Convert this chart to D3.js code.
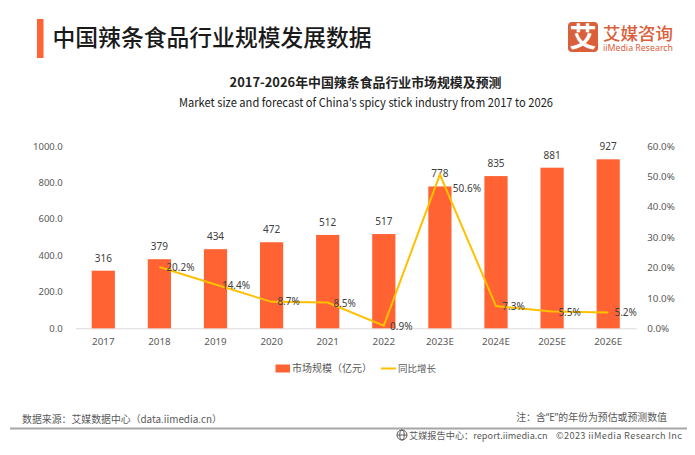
<!DOCTYPE html>
<html>
<head>
<meta charset="utf-8">
<script src="https://cdn.jsdelivr.net/npm/d3@7"></script>
<style>
  html, body { margin: 0; padding: 0; background: #fff; }
  svg { display: block; }
  text { font-family: "Noto Sans CJK SC", "Noto Sans", sans-serif; }
</style>
</head>
<body>
<div id="chart"></div>
<script>
const categories = ["2017", "2018", "2019", "2020", "2021", "2022", "2023E", "2024E", "2025E", "2026E"]
const marketSize = [316, 379, 434, 472, 512, 517, 778, 835, 881, 927]
const growth = [null, 20.2, 14.4, 8.7, 8.5, 0.9, 50.6, 7.3, 5.5, 5.2]
const leftTicks = [0, 200, 400, 600, 800, 1000]
const rightTicks = [0, 10, 20, 30, 40, 50, 60]
// label nudges for the growth line, same order as growth
const growthLabelDx = [0, 21, 20.5, 17, 17, 17.5, 27, 17.5, 17.5, 17.5]
const growthLabelDy = [0, 4, 4, 3.5, 4.5, 4, 17.5, 4, 4, 3.5]

const width = 695, height = 455
const plot = { left: 75.25, right: 636.25, top: 146, bottom: 328.3 }
const orange = "#ff6333", yellow = "#ffc000", grey = "#595959"
const latin = '"Noto Sans", sans-serif'

const svg = d3.select("#chart").append("svg")
    .attr("width", width)
    .attr("height", height)

// header
svg.append("rect").attr("x", 37).attr("y", 19).attr("width", 6.5).attr("height", 39).attr("fill", "#ff6333")
svg.append("text").attr("x", 52.5).attr("y", 45.5).attr("font-size", "22.8px").attr("font-weight", 500)
    .attr("fill", "#1a1a1a").text("中国辣条食品行业规模发展数据")

svg.append("text").attr("x", 365.5).attr("y", 87).attr("text-anchor", "middle")
    .attr("font-size", "12.9px").attr("font-weight", 700).attr("fill", "#222")
    .text("2017-2026年中国辣条食品行业市场规模及预测")
svg.append("text").attr("x", 366).attr("y", 107).attr("text-anchor", "middle")
    .attr("font-size", "12px").attr("fill", "#222")
    .attr("textLength", 374).attr("lengthAdjust", "spacingAndGlyphs")
    .text("Market size and forecast of China's spicy stick industry from 2017 to 2026")

// logo
const logo = svg.append("g")
logo.append("rect").attr("x", 568).attr("y", 22).attr("width", 30).attr("height", 30).attr("rx", 4).attr("fill", "#d9603b")
logo.append("text").attr("x", 583).attr("y", 47).attr("text-anchor", "middle")
    .attr("font-size", "27px").attr("font-weight", 700).attr("fill", "#fff").text("艾")
logo.append("text").attr("x", 603).attr("y", 39.5).attr("font-size", "17.5px").attr("font-weight", 500)
    .attr("fill", "#d9603b").text("艾媒咨询")
logo.append("text").attr("x", 603).attr("y", 51).attr("font-size", "8.5px")
    .style("font-family", latin)
    .attr("textLength", 70).attr("lengthAdjust", "spacingAndGlyphs")
    .attr("fill", "#d9603b").text("iiMedia Research")

// scales
const x = d3.scaleBand().domain(categories).range([plot.left, plot.right])
const yLeft = d3.scaleLinear().domain([0, 1000]).range([plot.bottom, plot.top])
const yRight = d3.scaleLinear().domain([0, 60]).range([plot.bottom, plot.top])
const cx = i => x(categories[i]) + x.bandwidth() / 2

// axes
const xAxis = svg.append("g")
    .attr("transform", "translate(0," + plot.bottom + ")")
    .call(d3.axisBottom(x).tickSize(0).tickPadding(10))
xAxis.select(".domain").attr("stroke", "#d9d9d9")
xAxis.selectAll("text").attr("font-size", "9.8px").attr("fill", grey).style("font-family", latin)

const leftAxis = svg.append("g")
    .attr("transform", "translate(" + plot.left + ",0)")
    .call(d3.axisLeft(yLeft).tickValues(leftTicks).tickSize(0).tickPadding(12.5).tickFormat(d3.format(".1f")))
leftAxis.select(".domain").remove()
leftAxis.selectAll("text").attr("font-size", "9.5px").attr("fill", grey).style("font-family", latin)

const rightAxis = svg.append("g")
    .attr("transform", "translate(" + plot.right + ",0)")
    .call(d3.axisRight(yRight).tickValues(rightTicks).tickSize(0).tickPadding(11).tickFormat(d => d.toFixed(1) + "%"))
rightAxis.select(".domain").remove()
rightAxis.selectAll("text").attr("font-size", "9.8px").attr("fill", grey).style("font-family", latin)

// bars
const barWidth = 23.2
svg.selectAll(".bar")
    .data(marketSize)
    .enter().append("rect")
    .attr("class", "bar")
    .attr("x", (d, i) => cx(i) - barWidth / 2)
    .attr("y", d => yLeft(d))
    .attr("width", barWidth)
    .attr("height", d => plot.bottom - yLeft(d))
    .attr("fill", orange)

svg.selectAll(".bar-label")
    .data(marketSize)
    .enter().append("text")
    .attr("class", "bar-label")
    .attr("x", (d, i) => cx(i))
    .attr("y", d => yLeft(d) - 9)
    .attr("text-anchor", "middle")
    .attr("font-size", "10px")
    .attr("fill", "#404040")
    .style("font-family", latin)
    .text(d => d)

// growth line
const line = d3.line()
    .defined(d => d != null)
    .x((d, i) => cx(i))
    .y(d => yRight(d))

svg.append("path")
    .datum(growth)
    .attr("d", line)
    .attr("fill", "none")
    .attr("stroke", yellow)
    .attr("stroke-width", 2)

svg.selectAll(".growth-label")
    .data(growth.map((v, i) => ({ v, i })).filter(d => d.v != null))
    .enter().append("text")
    .attr("class", "growth-label")
    .attr("x", d => cx(d.i) + growthLabelDx[d.i])
    .attr("y", d => yRight(d.v) + growthLabelDy[d.i])
    .attr("text-anchor", "middle")
    .attr("font-size", "10px")
    .attr("fill", "#404040")
    .style("font-family", latin)
    .text(d => d.v.toFixed(1) + "%")

// legend
svg.append("rect").attr("x", 275.5).attr("y", 364.5).attr("width", 14.5).attr("height", 8).attr("fill", orange)
svg.append("text").attr("x", 292).attr("y", 372).attr("font-size", "10px").attr("fill", grey).text("市场规模（亿元）")
svg.append("line").attr("x1", 381).attr("x2", 396).attr("y1", 368.5).attr("y2", 368.5)
    .attr("stroke", yellow).attr("stroke-width", 2)
svg.append("text").attr("x", 398).attr("y", 372).attr("font-size", "9.5px").attr("fill", grey).text("同比增长")

// footer
svg.append("text").attr("x", 22).attr("y", 423).attr("font-size", "9.9px").attr("fill", grey)
    .text("数据来源：艾媒数据中心（data.iimedia.cn）")

const note = svg.append("text").attr("x", 667).attr("y", 421).attr("text-anchor", "end")
    .attr("font-size", "9.9px").attr("fill", grey)
note.append("tspan").text("注：含")
note.append("tspan").style("font-family", latin).text("“E”")
note.append("tspan").text("的年份为预估或预测数值")

svg.append("rect").attr("x", 10).attr("y", 427.5).attr("width", 677).attr("height", 2).attr("fill", "#a6a6a6")

const globe = svg.append("g").attr("fill", "none").attr("stroke", grey).attr("stroke-width", 1)
globe.append("circle").attr("cx", 402).attr("cy", 435).attr("r", 5)
globe.append("ellipse").attr("cx", 402).attr("cy", 435).attr("rx", 2.2).attr("ry", 5)
globe.append("line").attr("x1", 397).attr("x2", 407).attr("y1", 435).attr("y2", 435)

svg.append("text").attr("x", 409).attr("y", 438.5).attr("font-size", "9.2px").attr("fill", grey)
    .text("艾媒报告中心：report.iimedia.cn")
svg.append("text").attr("x", 682).attr("y", 438.5).attr("text-anchor", "end").attr("font-size", "9.2px").attr("fill", grey)
    .attr("textLength", 126).attr("lengthAdjust", "spacing")
    .text("©2023  iiMedia Research  Inc")
</script>
</body>
</html>
